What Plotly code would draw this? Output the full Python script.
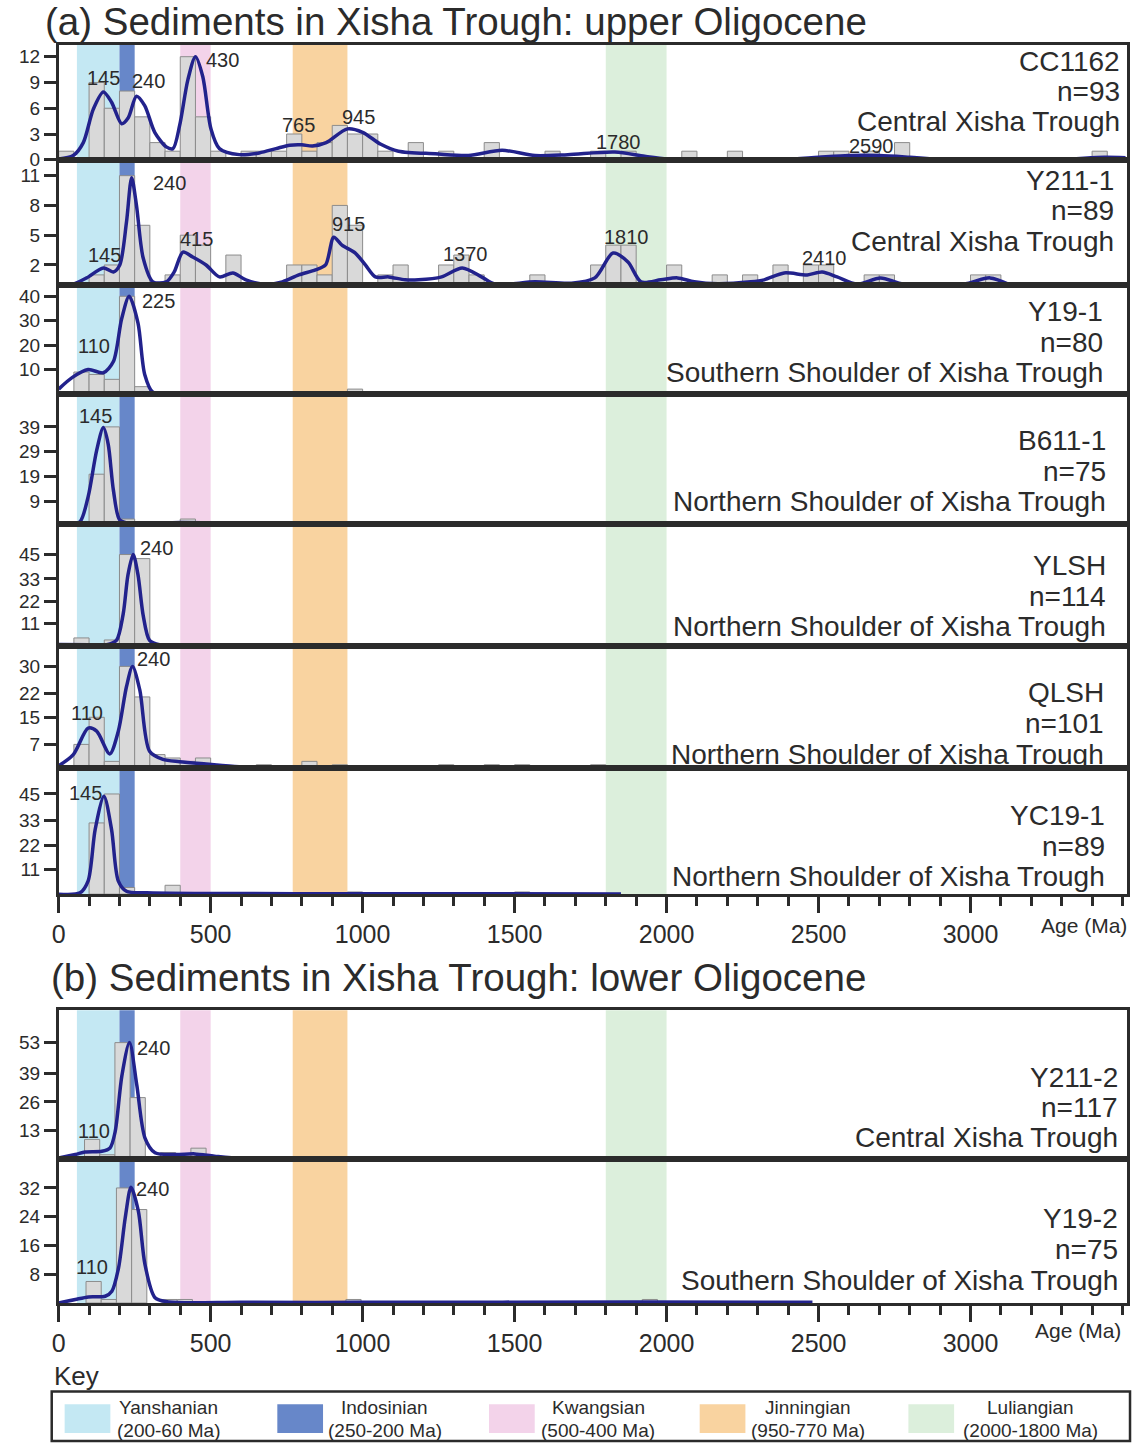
import plotly.graph_objects as go

W, H = 1133, 1454
DARK = "#2b2b2b"
FONT = "Liberation Sans, Arial, sans-serif"

# ---------------- data ----------------
samples = ["CC1162", "Y211-1", "Y19-1", "B611-1", "YLSH", "QLSH", "YC19-1", "Y211-2", "Y19-2"]
n_grains = [93, 89, 80, 75, 114, 101, 89, 117, 75]
locations = ["Central Xisha Trough", "Central Xisha Trough",
             "Southern Shoulder of Xisha Trough", "Northern Shoulder of Xisha Trough",
             "Northern Shoulder of Xisha Trough", "Northern Shoulder of Xisha Trough",
             "Northern Shoulder of Xisha Trough", "Central Xisha Trough",
             "Southern Shoulder of Xisha Trough"]

# histogram bins (bin centre in Ma, 50 Ma bins) and counts
bar_age_cc1162 = [25, 125, 175, 225, 275, 325, 375, 425, 475, 525, 625, 675, 725, 775, 825, 875, 925,
                  975, 1025, 1075, 1175, 1275, 1425, 1625, 1775, 1875, 2075, 2225, 2525, 2575, 2675,
                  2775, 3425]
bar_cnt_cc1162 = [1, 9, 6, 8, 5, 2, 1, 12, 5, 1, 1, 1, 1, 3, 1, 2, 4, 3, 3, 1, 2, 1, 2, 1, 1, 1, 1, 1,
                  1, 1, 1, 2, 1]
bar_age_y211_1 = [125, 175, 225, 275, 375, 425, 475, 575, 775, 825, 875, 925, 975, 1075, 1125, 1275,
                  1325, 1375, 1575, 1775, 1825, 1875, 2025, 2175, 2275, 2375, 2475, 2525, 2675, 2725,
                  3025, 3075]
bar_cnt_y211_1 = [1, 2, 11, 6, 1, 5, 4, 3, 2, 2, 1, 8, 6, 1, 2, 2, 3, 1, 1, 2, 4, 4, 2, 1, 1, 2, 2, 2,
                  1, 1, 1, 1]
bar_age_y19_1 = [75, 125, 175, 225, 275, 825, 975, 1375, 1425]
bar_cnt_y19_1 = [9, 8, 6, 40, 3, 1, 2, 1, 1]
bar_age_b611 = [75, 125, 175, 225, 375, 425, 975]
bar_cnt_b611 = [1, 20, 39, 2, 1, 2, 1]
bar_age_ylsh = [75, 175, 225, 275, 325]
bar_cnt_ylsh = [4, 3, 45, 43, 1]
bar_age_qlsh = [75, 125, 175, 225, 275, 325, 375, 425, 475, 675, 825, 925, 1275, 1425, 1525, 1775]
bar_cnt_qlsh = [7, 15, 2, 30, 21, 4, 3, 2, 3, 1, 2, 1, 1, 1, 1, 1]
bar_age_yc19 = [125, 175, 225, 375, 975, 1525]
bar_cnt_yc19 = [32, 45, 3, 4, 1, 1]
bar_age_y211_2 = [110, 160, 210, 260, 360, 410, 460, 970, 1435, 2495]
bar_cnt_y211_2 = [9, 2, 53, 28, 3, 1, 5, 1, 1, 1]
bar_age_y19_2 = [115, 165, 215, 265, 365, 415, 970, 1945]
bar_cnt_y19_2 = [6, 1, 32, 26, 1, 1, 1, 1]

# kernel density curves (age in Ma, value on count scale)
kde_age_cc1162 = [0, 48, 81, 114, 147, 174, 207, 229, 256, 283, 316, 354, 376, 398, 425, 450, 474, 501,
                  529, 594, 660, 715, 760, 800, 835, 880, 950, 1000, 1060, 1118, 1239, 1348, 1459,
                  1567, 1675, 1830, 1928, 2004, 2168, 2388, 2500, 2600, 2700, 2800, 2900, 3100, 3300,
                  3440, 3510]
kde_val_cc1162 = [0.1, 0.5, 2, 5.9, 7.9, 6.7, 4.2, 4.9, 7.4, 6.3, 3.2, 1.5, 1.3, 4, 9.3, 12, 9.7, 3.6,
                  1.3, 0.6, 0.8, 1.3, 1.7, 1.75, 1.6, 2.0, 3.6, 3.2, 1.8, 1.0, 0.7, 0.5, 1.1, 0.5, 0.6,
                  0.9, 0.4, 0.1, 0.05, 0.05, 0.3, 0.5, 0.5, 0.3, 0.05, 0.03, 0.05, 0.3, 0.25]
kde_age_y211_1 = [0, 48, 92, 147, 180, 201, 223, 240, 256, 278, 310, 354, 380, 409, 441, 485, 529, 573,
                  616, 682, 736, 790, 845, 878, 905, 932, 976, 1009, 1042, 1086, 1140, 1184, 1260, 1328,
                  1391, 1435, 1567, 1687, 1764, 1824, 1873, 1916, 1981, 2036, 2091, 2168, 2277, 2321,
                  2387, 2463, 2512, 2561, 2627, 2704, 2780, 2977, 3064, 3130]
kde_val_y211_1 = [0, 0.07, 0.7, 1.7, 1.3, 2, 6.3, 10.8, 8, 2.7, 0.3, 0.3, 1.3, 3.3, 2.8, 2, 0.8, 1.2,
                  0.5, 0.05, 0.3, 1, 1.5, 2, 4.8, 4, 3.2, 2, 0.8, 0.8, 0.5, 0.5, 0.8, 1.7, 0.8, 0.07, 0.3,
                  0.17, 0.7, 3.2, 2.3, 0.3, 0.5, 0.7, 0.3, 0.1, 0.3, 0.5, 1.2, 1, 1.3, 0.8, 0.07, 0.7,
                  0.07, 0.07, 0.7, 0]
kde_age_y19_1 = [0, 44, 97, 147, 180, 207, 232, 261, 283, 310, 376, 500, 800, 1000, 1500]
kde_val_y19_1 = [2, 6.7, 10, 8.7, 13.3, 30.7, 40, 29, 8, 0.7, 0.1, 0.1, 0.3, 0.4, 0.1]
kde_age_b611 = [0, 37, 70, 97, 125, 147, 163, 180, 201, 234, 300, 400, 600, 1000, 1300]
kde_val_b611 = [0, 0, 0.9, 11, 29.6, 38.7, 32, 13.6, 1.6, 0.2, 0.3, 0.6, 0.3, 0.3, 0.1]
kde_age_ylsh = [0, 100, 158, 190, 212, 228, 245, 261, 278, 299, 332, 600, 1200, 1800, 2560]
kde_val_ylsh = [0.8, 0.7, 0.7, 2.8, 15.6, 35, 45, 35, 15.1, 2.8, 0.7, 0.4, 0.3, 0.3, 0.3]
kde_age_qlsh = [0, 48, 97, 125, 168, 196, 223, 243, 267, 299, 343, 398, 485, 594, 800, 1200, 2000,
                3000, 3510]
kde_val_qlsh = [0.7, 4, 11.8, 10.9, 4.2, 10.8, 24, 30, 23, 5, 2.6, 1.9, 1.2, 0.4, 0.3, 0.3, 0.2, 0.1,
                0.1]
kde_age_yc19 = [0, 70, 97, 120, 149, 174, 196, 223, 289, 485, 1000, 1850]
kde_val_yc19 = [0, 0.6, 6, 29, 44, 29, 6, 1.3, 0.6, 0.3, 0.2, 0.1]
kde_age_y211_2 = [0, 55, 87, 142, 169, 186, 208, 233, 257, 284, 317, 382, 448, 513, 601, 1000, 1500,
                  2270]
kde_val_y211_2 = [0.6, 2.1, 3.3, 3.6, 5.1, 12.6, 38, 53, 33.7, 9.6, 2.9, 2.1, 2.4, 1.35, 0.3, 0.3, 0.3,
                  0.3]
kde_age_y19_2 = [0, 55, 98, 153, 175, 197, 219, 238, 262, 284, 317, 361, 600, 1000, 1900, 2480]
kde_val_y19_2 = [0, 1, 1.7, 1.9, 3.3, 9.8, 23.7, 32.2, 25.6, 10.7, 1.5, 0.3, 0.2, 0.2, 0.3, 0.2]

# y-axis ticks per panel
yticks = [[0, 3, 6, 9, 12], [2, 5, 8, 11], [10, 20, 30, 40], [9, 19, 29, 39], [11, 22, 33, 45],
          [7, 15, 22, 30], [11, 22, 33, 45], [13, 26, 39, 53], [8, 16, 24, 32]]

# peak labels: (text, age, value)
peaks = [
    [("145", 148, 9.5), ("240", 295, 9.2), ("430", 538, 11.6), ("765", 790, 4.0), ("945", 987, 5.0),
     ("1780", 1843, 2.1), ("2590", 2675, 1.6)],
    [("240", 364, 10.3), ("145", 151, 3.0), ("415", 452, 4.6), ("915", 954, 6.1), ("1370", 1338, 3.1),
     ("1810", 1869, 4.8), ("2410", 2518, 2.7)],
    [("110", 115, 19.5), ("225", 328, 37.9)],
    [("145", 121, 43.4)],
    [("240", 321, 48.1)],
    [("110", 92, 16.3), ("240", 311, 32.2)],
    [("145", 89, 45.5)],
    [("110", 115, 12.7), ("240", 311, 50.5)],
    [("110", 108, 10.0), ("240", 308, 31.7)],
]

# tectonic age bands (Ma)
band_names = ["Yanshanian", "Indosinian", "Kwangsian", "Jinningian", "Luliangian"]
band_lo = [60, 200, 400, 770, 1800]
band_hi = [200, 250, 500, 950, 2000]
band_text = ["(200-60 Ma)", "(250-200 Ma)", "(500-400 Ma)", "(950-770 Ma)", "(2000-1800 Ma)"]
band_colors = ["#c4e8f3", "#6787c9", "#f3d3ea", "#f9d3a0", "#dcefdc"]

bar_ages = [bar_age_cc1162, bar_age_y211_1, bar_age_y19_1, bar_age_b611, bar_age_ylsh, bar_age_qlsh,
            bar_age_yc19, bar_age_y211_2, bar_age_y19_2]
bar_cnts = [bar_cnt_cc1162, bar_cnt_y211_1, bar_cnt_y19_1, bar_cnt_b611, bar_cnt_ylsh, bar_cnt_qlsh,
            bar_cnt_yc19, bar_cnt_y211_2, bar_cnt_y19_2]
kde_ages = [kde_age_cc1162, kde_age_y211_1, kde_age_y19_1, kde_age_b611, kde_age_ylsh, kde_age_qlsh,
            kde_age_yc19, kde_age_y211_2, kde_age_y19_2]
kde_vals = [kde_val_cc1162, kde_val_y211_1, kde_val_y19_1, kde_val_b611, kde_val_ylsh, kde_val_qlsh,
            kde_val_yc19, kde_val_y211_2, kde_val_y19_2]

# ---------------- layout (pixel geometry) ----------------
X0, X1 = 52, 1127
AGE_MAX = 3515
panel_px = [(45, 161), (161, 287), (287, 397), (397, 528), (528, 651), (651, 774), (774, 901),
            (1018, 1168), (1168, 1313)]
y_max = [13.4, 12.6, 44.7, 52.2, 60, 36, 56.6, 67.7, 40]
label_y = [(62, 92, 122), (182, 212, 243), (314, 345, 375), (444, 475, 505), (570, 601, 631),
           (698, 729, 760), (822, 853, 883), (1086, 1116, 1146), (1228, 1259, 1290)]
label_right = [1122, 1116, 1105, 1108, 1108, 1106, 1107, 1120, 1120]
bottom_panels = [7, 9]


def py(px):
    return 1 - px / H


fig = go.Figure()
annotations = []
shapes = []

for i in range(9):
    k = i + 1
    xs, ys = f"x{k}", f"y{k}"
    fig.add_trace(go.Bar(x=bar_ages[i], y=bar_cnts[i], width=50, xaxis=xs, yaxis=ys,
                         marker=dict(color="#d9d9d9", line=dict(color="#8c8c8c", width=1)),
                         showlegend=False, hoverinfo="skip"))
    fig.add_trace(go.Scatter(x=kde_ages[i], y=kde_vals[i], mode="lines", xaxis=xs, yaxis=ys,
                             line=dict(color="#22228c", width=3.5, shape="spline", smoothing=0.8),
                             showlegend=False, hoverinfo="skip"))

    top, bot = panel_px[i]
    xa = dict(domain=[X0 / W, X1 / W], range=[0, AGE_MAX], anchor=ys, showline=True, mirror=True,
              linecolor=DARK, linewidth=2.5, showgrid=False, zeroline=False, ticks="",
              showticklabels=False)
    if k in bottom_panels:
        xa.update(tickmode="array", tickvals=[0, 500, 1000, 1500, 2000, 2500, 3000],
                  ticks="outside", ticklen=16, tickwidth=3, tickcolor=DARK, showticklabels=True,
                  tickfont=dict(size=25, color=DARK, family=FONT),
                  minor=dict(tickmode="linear", tick0=0, dtick=100, ticks="outside", ticklen=9,
                             tickwidth=3, tickcolor=DARK))
    ya = dict(domain=[py(bot), py(top)], range=[0, y_max[i]], anchor=xs, showline=True, mirror=True,
              linecolor=DARK, linewidth=2.5, showgrid=False, zeroline=False, tickmode="array",
              tickvals=yticks[i], ticks="outside", ticklen=12, tickwidth=2.5, tickcolor=DARK,
              tickfont=dict(size=19, color=DARK, family=FONT))
    fig.layout["xaxis" if k == 1 else f"xaxis{k}"] = xa
    fig.layout["yaxis" if k == 1 else f"yaxis{k}"] = ya

    for txt, ax_, ay_ in peaks[i]:
        annotations.append(dict(text=txt, x=ax_, y=ay_, xref=xs, yref=ys, showarrow=False,
                                xanchor="center", yanchor="middle",
                                font=dict(size=20, color=DARK, family=FONT)))
    lines = [samples[i], f"n={n_grains[i]}", locations[i]]
    for txt, ly in zip(lines, label_y[i]):
        annotations.append(dict(text=txt, x=label_right[i] / W, y=py(ly), xref="paper",
                                yref="paper", xanchor="right", yanchor="middle", showarrow=False,
                                font=dict(size=28, color=DARK, family=FONT)))

# age bands behind both groups
for xr, top, bot in [("x7", 45, 901), ("x9", 1018, 1313)]:
    for lo, hi, col in zip(band_lo, band_hi, band_colors):
        shapes.append(dict(type="rect", xref=xr, yref="paper", x0=lo, x1=hi, y0=py(bot), y1=py(top),
                           fillcolor=col, line=dict(width=0), layer="below"))

# titles and axis names
annotations += [
    dict(text="(a) Sediments in Xisha Trough: upper Oligocene", x=36 / W, y=py(22), xref="paper",
         yref="paper", xanchor="left", yanchor="middle", showarrow=False,
         font=dict(size=38.5, color=DARK, family=FONT)),
    dict(text="(b) Sediments in Xisha Trough: lower Oligocene", x=42 / W, y=py(985), xref="paper",
         yref="paper", xanchor="left", yanchor="middle", showarrow=False,
         font=dict(size=38.5, color=DARK, family=FONT)),
    dict(text="Age (Ma)", x=1084 / W, y=py(933), xref="paper", yref="paper", showarrow=False,
         xanchor="center", yanchor="middle", font=dict(size=21, color=DARK, family=FONT)),
    dict(text="Age (Ma)", x=1078 / W, y=py(1341), xref="paper", yref="paper", showarrow=False,
         xanchor="center", yanchor="middle", font=dict(size=21, color=DARK, family=FONT)),
    dict(text="Key", x=45 / W, y=py(1386), xref="paper", yref="paper", xanchor="left",
         yanchor="middle", showarrow=False, font=dict(size=26, color=DARK, family=FONT)),
]

# key box
shapes.append(dict(type="rect", xref="paper", yref="paper", x0=45 / W, x1=1130 / W, y0=py(1452),
                   y1=py(1402), line=dict(color=DARK, width=2.5), fillcolor="rgba(0,0,0,0)"))
swatch_x = [58, 272, 485, 697, 907]
text_x = [163, 380, 595, 806, 1030]
for sx, tx, name, rng, col in zip(swatch_x, text_x, band_names, band_text, band_colors):
    shapes.append(dict(type="rect", xref="paper", yref="paper", x0=sx / W, x1=(sx + 46) / W,
                       y0=py(1444), y1=py(1415), fillcolor=col, line=dict(width=0)))
    for txt, ly in [(name, 1418), (rng, 1441)]:
        annotations.append(dict(text=txt, x=tx / W, y=py(ly), xref="paper", yref="paper",
                                xanchor="center", yanchor="middle", showarrow=False,
                                font=dict(size=19, color=DARK, family=FONT)))

fig.update_layout(width=W, height=H, margin=dict(l=0, r=0, t=0, b=0), paper_bgcolor="white",
                  plot_bgcolor="rgba(0,0,0,0)", annotations=annotations, shapes=shapes,
                  barmode="overlay", font=dict(family=FONT, color=DARK))

# strip the default page margin and any stray line box below the plot div
page_fix = ("var b=document.body;b.style.margin='0';b.style.padding='0';b.style.fontSize='0';"
            "b.style.lineHeight='0';b.style.height='1454px';b.style.overflow='hidden';"
            "document.documentElement.style.overflow='hidden';"
            "document.documentElement.style.height='1454px';")
fig.write_html("out.html", config={"displayModeBar": False}, post_script=page_fix)
